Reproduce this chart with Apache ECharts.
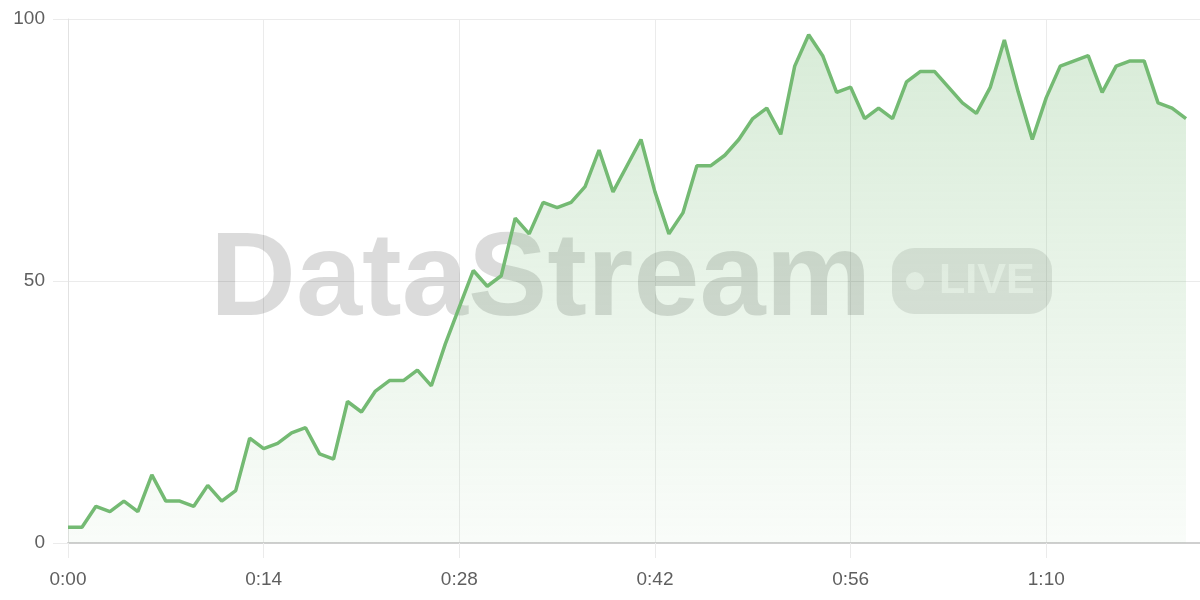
<!DOCTYPE html>
<html>
<head>
<meta charset="utf-8">
<script src="https://cdn.jsdelivr.net/npm/echarts@6/dist/echarts.min.js"></script>
<style>html,body{margin:0;padding:0;background:#fff}#c{width:1200px;height:600px}</style>
</head>
<body>
<div id="c"></div>
<script>
// elapsed seconds for each sample
const seconds = [0,1,2,3,4,5,6,7,8,9,10,11,12,13,14,15,16,17,18,19,20,21,22,23,24,25,26,27,28,29,30,31,32,33,34,35,36,37,38,39,40,41,42,43,44,45,46,47,48,49,50,51,52,53,54,55,56,57,58,59,60,61,62,63,64,65,66,67,68,69,70,71,72,73,74,75,76,77,78,79,80];
const values = [3,3,7,6,8,6,13,8,8,7,11,8,10,20,18,19,21,22,17,16,27,25,29,31,31,33,30,38,45,52,49,51,62,59,65,64,65,68,75,67,72,77,67,59,63,72,72,74,77,81,83,78,91,97,93,86,87,81,83,81,88,90,90,87,84,82,87,96,86,77,85,91,92,93,86,91,92,92,84,83,81];
const yTicks = [0, 50, 100];
const xTickStep = 14;
const watermarkText = 'DataStream';
const badgeText = 'LIVE';

const chart = echarts.init(document.getElementById('c'), null, {renderer: 'canvas'});
const fmt = s => Math.floor(s / 60) + ':' + String(s % 60).padStart(2, '0');
const font = '"Liberation Sans", Arial, sans-serif';

chart.setOption({
  animation: false,
  grid: {left: 68, right: 0, top: 19, bottom: 57},
  graphic: [
    {type: 'text', z: 1, x: 210, y: 223, style: {text: watermarkText, font: 'bold 119px ' + font, fill: 'rgba(0,0,0,0.14)'}},
    {type: 'rect', z: 1, x: 892, y: 248, shape: {width: 160, height: 66, r: 22}, style: {fill: 'rgba(0,0,0,0.10)'}},
    {type: 'circle', z: 1, shape: {cx: 915, cy: 281, r: 9}, style: {fill: 'rgba(255,255,255,0.65)'}},
    {type: 'text', z: 1, x: 939, y: 260, style: {text: badgeText, font: 'bold 43px ' + font, fill: 'rgba(255,255,255,0.65)'}}
  ],
  xAxis: {
    type: 'value',
    min: 0,
    max: 81,
    interval: xTickStep,
    axisLine: {show: true, lineStyle: {color: '#cfcfcf', width: 2}},
    axisTick: {show: true, length: 15, lineStyle: {color: '#ebebeb'}},
    splitLine: {show: true, lineStyle: {color: '#ebebeb'}},
    axisLabel: {color: '#5f5f5f', fontSize: 19, fontFamily: font, margin: 27, formatter: v => fmt(v), showMaxLabel: false}
  },
  yAxis: {
    type: 'value',
    min: yTicks[0],
    max: yTicks[yTicks.length - 1],
    interval: yTicks[1] - yTicks[0],
    axisLine: {show: true, lineStyle: {color: '#e2e2e2'}},
    axisTick: {show: true, length: 15, lineStyle: {color: '#ebebeb'}},
    splitLine: {show: true, lineStyle: {color: '#ebebeb'}},
    axisLabel: {color: '#5f5f5f', fontSize: 19, fontFamily: font, margin: 23}
  },
  series: [{
    type: 'line',
    data: seconds.map((s, i) => [s, values[i]]),
    showSymbol: false,
    z: 3,
    lineStyle: {color: '#74ba73', width: 3.5},
    areaStyle: {
      color: new echarts.graphic.LinearGradient(0, 0, 0, 1, [
        {offset: 0, color: 'rgba(116,186,115,0.40)'},
        {offset: 1, color: 'rgba(116,186,115,0.06)'}
      ])
    }
  }]
});
</script>
</body>
</html>
